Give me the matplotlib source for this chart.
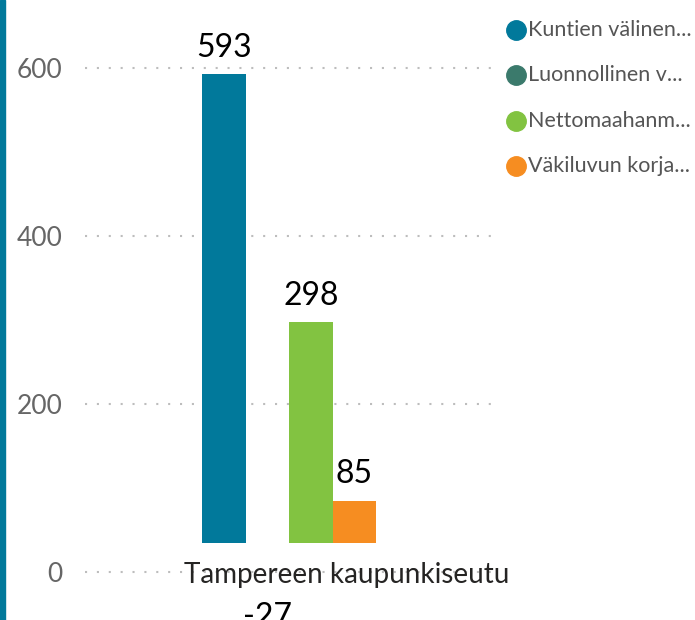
import matplotlib.pyplot as plt
from matplotlib.patches import Rectangle
from matplotlib.lines import Line2D

plt.rcParams['font.family'] = ['Lato', 'DejaVu Sans']

# data
series = ['Kuntien välinen...', 'Luonnollinen v...', 'Nettomaahanm...', 'Väkiluvun korja...']
values = [593, -27, 298, 85]
colors = ['#01799b', '#3b7a6c', '#82c341', '#f68d21']
category = 'Tampereen kaupunkiseutu'
yticks = [0, 200, 400, 600]

W, H = 695, 620
fig = plt.figure(figsize=(W / 100, H / 100), dpi=100)

# axes placed so that 0 sits at y=572px and 600 at y=68px
ax = fig.add_axes([85 / W, 0, 410 / W, 1])
ax.set_ylim((572 - 620) / 0.84, 572 / 0.84)
ax.set_xlim((85 - 224) / 43.5, (495 - 224) / 43.5)
for s in ax.spines.values():
    s.set_visible(False)
ax.set_xticks([])
ax.set_yticks(yticks)
ax.set_yticklabels([str(t) for t in yticks], fontsize=19, color='#666666')
ax.tick_params(axis='y', length=0, pad=16)

for t in yticks:
    ax.axhline(t, color='#bdbdbd', lw=1.5, linestyle=(0, (1, 4.7)), zorder=0)

# bars, clipped just above the category label like in the source
clip = Rectangle((-10, 34.5), 30, 2000, transform=ax.transData)
bars = ax.bar(range(len(values)), values, width=1.0, color=colors, zorder=2)
for b in bars:
    b.set_clip_path(clip)

for i, v in enumerate(values):
    if v >= 0:
        ax.annotate(str(v), (i, v), xytext=(0, 8), textcoords='offset points',
                    ha='center', va='bottom', fontsize=23, color='black',
                    annotation_clip=False)
    else:
        ax.annotate(str(v), (i, v), xytext=(0, -5), textcoords='offset points',
                    ha='center', va='top', fontsize=23, color='black',
                    annotation_clip=False)

fig.text(347 / W, 1 - 575 / H, category, ha='center', va='center',
         fontsize=20, color='#252423')

# legend
rows = [30, 75, 121, 166]
for name, c, y in zip(series, colors, rows):
    fig.add_artist(Line2D([516 / W], [1 - y / H], marker='o', markersize=14,
                          color=c, linestyle='none'))
    fig.text(528 / W, 1 - y / H, name, ha='left', va='center',
             fontsize=15.5, color='#555555')

# left accent strip
fig.add_artist(Rectangle((0, 0), 5 / W, 1, transform=fig.transFigure,
                         color='#01799b'))

fig.savefig('out.png', dpi=100)
